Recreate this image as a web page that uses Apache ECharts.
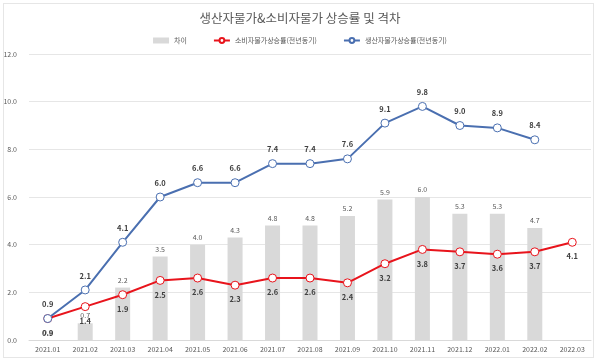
<!DOCTYPE html>
<html><head><meta charset="utf-8">
<script src="https://cdn.jsdelivr.net/npm/echarts@6/dist/echarts.min.js"></script>
<style>html,body{margin:0;padding:0;background:#fff}#frame{position:absolute;left:3px;top:3px;width:589px;height:353px;border:1px solid #e6e6e6}#c{position:absolute;left:0;top:0;width:600px;height:362px}</style>
</head><body><div id="frame"></div><div id="c"></div>
<script>
var categories = ['2021.01','2021.02','2021.03','2021.04','2021.05','2021.06','2021.07','2021.08','2021.09','2021.10','2021.11','2021.12','2022.01','2022.02','2022.03'];
var gapValues = [0.0,0.7,2.2,3.5,4.0,4.3,4.8,4.8,5.2,5.9,6.0,5.3,5.3,4.7,null];
var cpiValues = [0.9,1.4,1.9,2.5,2.6,2.3,2.6,2.6,2.4,3.2,3.8,3.7,3.6,3.7,4.1];
var ppiValues = [0.9,2.1,4.1,6.0,6.6,6.6,7.4,7.4,7.6,9.1,9.8,9.0,8.9,8.4,null];
var yTicks = [0,2,4,6,8,10,12];

var font = '"Noto Sans CJK KR", "Noto Sans", sans-serif';
var chart = echarts.init(document.getElementById('c'), null, {renderer:'canvas'});
chart.setOption({
  animation:false,
  textStyle:{fontFamily:font},
  title:{text:'생산자물가&소비자물가 상승률 및 격차', left:'center', top:7,
    textStyle:{fontSize:12.5, fontWeight:'normal', color:'#595959', fontFamily:font}},
  legend:{top:32, left:'center', itemGap:26, itemWidth:16, itemHeight:6,
    textStyle:{fontSize:7, color:'#595959'},
    data:[{name:'차이', icon:'rect'},{name:'소비자물가상승률(전년동기)'},{name:'생산자물가상승률(전년동기)'}]},
  grid:{left:29, right:9, top:54, bottom:22},
  xAxis:{type:'category', data:categories,
    axisLine:{lineStyle:{color:'#d9d9d9'}}, axisTick:{show:false},
    axisLabel:{fontSize:7, color:'#595959', margin:6, interval:0}},
  yAxis:{type:'value', min:0, max:12, interval:2,
    axisLine:{show:false}, axisTick:{show:false},
    splitLine:{lineStyle:{color:'#e6e6e6'}},
    axisLabel:{fontSize:7, color:'#595959', margin:12, formatter:function(v){return v.toFixed(1);}}},
  series:[
    {name:'차이', type:'bar', data:gapValues, barWidth:15, itemStyle:{color:'#d9d9d9'},
      label:{show:true, position:'top', fontSize:7, color:'#595959', distance:4,
        formatter:function(p){return p.value==null?'':p.value.toFixed(1);}}},
    {name:'소비자물가상승률(전년동기)', type:'line', data:cpiValues, symbol:'circle', symbolSize:8,
      lineStyle:{color:'#e8141c', width:2}, itemStyle:{color:'#fff', borderColor:'#e8141c', borderWidth:1},
      label:{show:true, position:'bottom', fontSize:7.5, fontWeight:'bold', color:'#404040', distance:6,
        formatter:function(p){return p.value.toFixed(1);}}},
    {name:'생산자물가상승률(전년동기)', type:'line', data:ppiValues, symbol:'circle', symbolSize:8,
      lineStyle:{color:'#4a6fb0', width:2}, itemStyle:{color:'#fff', borderColor:'#4a6fb0', borderWidth:1},
      label:{show:true, position:'top', fontSize:7.5, fontWeight:'bold', color:'#404040', distance:6,
        formatter:function(p){return p.value==null?'':p.value.toFixed(1);}}}
  ]
});
</script></body></html>
